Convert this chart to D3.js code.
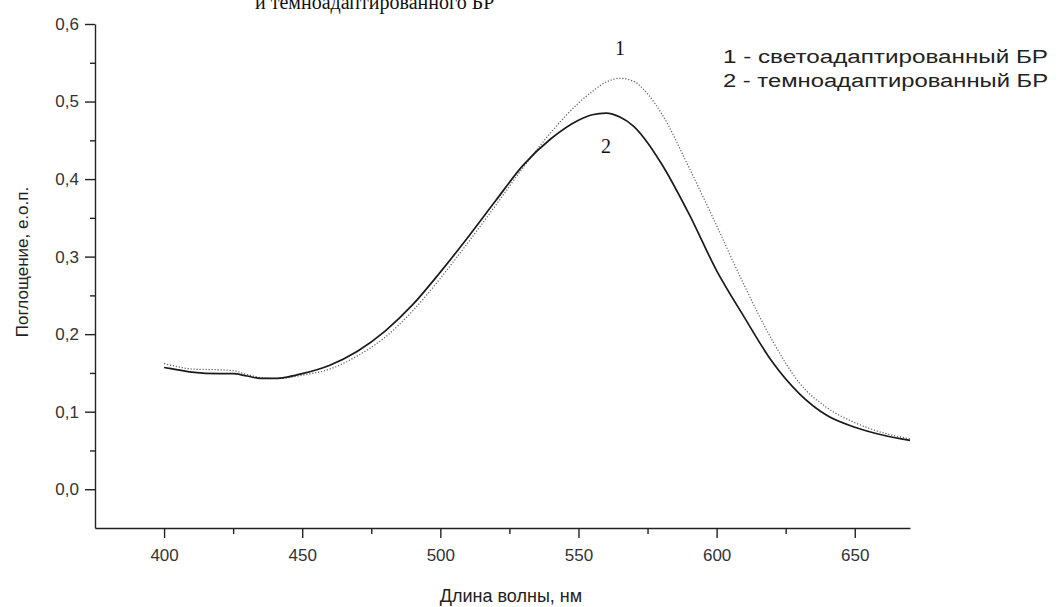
<!DOCTYPE html>
<html>
<head>
<meta charset="utf-8">
<script src="https://cdn.jsdelivr.net/npm/d3@7"></script>
<style>
  body { margin: 0; background: #fff; }
  .axis path, .axis line { stroke: #222; stroke-width: 1.4; }
  .axis text { font-family: "Liberation Sans", Arial, sans-serif; font-size: 17px; fill: #333; }
</style>
</head>
<body>
<div id="chart"></div>
<script>
// wavelengths, nm
var wavelengths = [400, 405, 410, 420, 425, 430, 435, 440, 445, 450, 460, 470, 480, 490, 500,
  510, 520, 530, 540, 550, 555, 560, 565, 570, 575, 580, 590, 600, 610, 620, 630, 640, 650, 660, 670];

// 1 - light adapted (dotted)
var lightAdapted = [0.162, 0.158, 0.155, 0.154, 0.153, 0.148, 0.144, 0.143, 0.144, 0.147, 0.155, 0.172, 0.196, 0.230, 0.272,
  0.318, 0.366, 0.415, 0.460, 0.498, 0.513, 0.525, 0.530, 0.526, 0.510, 0.485, 0.415, 0.340, 0.263, 0.193, 0.137, 0.105, 0.086, 0.073, 0.065];

// 2 - dark adapted (solid)
var darkAdapted = [0.157, 0.154, 0.151, 0.149, 0.149, 0.146, 0.143, 0.143, 0.145, 0.149, 0.160, 0.178, 0.204, 0.238, 0.280,
  0.325, 0.372, 0.418, 0.452, 0.476, 0.483, 0.485, 0.480, 0.468, 0.447, 0.420, 0.355, 0.282, 0.222, 0.165, 0.123, 0.095, 0.080, 0.070, 0.063];

var xMajor = [400, 450, 500, 550, 600, 650];
var xMinor = [425, 475, 525, 575, 625];
var yMajor = [0, 0.1, 0.2, 0.3, 0.4, 0.5, 0.6];
var yMinor = [0.05, 0.15, 0.25, 0.35, 0.45, 0.55];

var legendLines = ["1 - светоадаптированный БР", "2 - темноадаптированный БР"];

var svgWidth = 1059;
var svgHeight = 607;

var svg = d3.select("#chart")
  .append("svg")
  .attr("width", svgWidth)
  .attr("height", svgHeight);

var x = d3.scaleLinear().domain([375, 670]).range([95, 910]);
var y = d3.scaleLinear().domain([-0.05, 0.6]).range([528, 24]);

var fmt = function(d) { return d.toFixed(1).replace(".", ","); };

// x axis
svg.append("g")
  .attr("class", "axis")
  .attr("transform", "translate(0," + y(-0.05) + ")")
  .call(d3.axisBottom(x).tickValues(xMajor).tickSize(10).tickSizeOuter(0).tickPadding(11).tickFormat(d3.format("d")));

svg.append("g")
  .attr("class", "axis")
  .attr("transform", "translate(0," + y(-0.05) + ")")
  .call(d3.axisBottom(x).tickValues(xMinor).tickSize(6).tickSizeOuter(0).tickFormat(""))
  .select(".domain").remove();

// y axis
svg.append("g")
  .attr("class", "axis")
  .attr("transform", "translate(" + x(375) + ",0)")
  .call(d3.axisLeft(y).tickValues(yMajor).tickSize(10).tickSizeOuter(0).tickPadding(6).tickFormat(fmt));

svg.append("g")
  .attr("class", "axis")
  .attr("transform", "translate(" + x(375) + ",0)")
  .call(d3.axisLeft(y).tickValues(yMinor).tickSize(5).tickSizeOuter(0).tickFormat(""))
  .select(".domain").remove();

// curves
var line = d3.line()
  .x(function(d, i) { return x(wavelengths[i]); })
  .y(function(d) { return y(d); })
  .curve(d3.curveMonotoneX);

svg.append("path")
  .datum(lightAdapted)
  .attr("d", line)
  .attr("fill", "none")
  .attr("stroke", "#666")
  .attr("stroke-width", 1.3)
  .attr("stroke-dasharray", "1.2,1.8");

svg.append("path")
  .datum(darkAdapted)
  .attr("d", line)
  .attr("fill", "none")
  .attr("stroke", "#1a1a1a")
  .attr("stroke-width", 1.7);

// axis titles
svg.append("text")
  .attr("x", 511)
  .attr("y", 602)
  .attr("text-anchor", "middle")
  .style("font-family", "Liberation Sans, Arial, sans-serif")
  .style("font-size", "18px")
  .style("fill", "#222")
  .text("Длина волны, нм");

svg.append("text")
  .attr("transform", "translate(28,262) rotate(-90)")
  .attr("text-anchor", "middle")
  .style("font-family", "Liberation Sans, Arial, sans-serif")
  .style("font-size", "17px")
  .style("fill", "#222")
  .text("Поглощение, е.о.п.");

// title, cut off at the top edge as in the source
svg.append("text")
  .attr("x", 255)
  .attr("y", 9)
  .style("font-family", "Liberation Serif, Times New Roman, serif")
  .style("font-size", "20px")
  .style("fill", "#111")
  .text("и темноадаптированного БР");

// curve numbers
svg.append("text")
  .attr("x", x(565))
  .attr("y", 55)
  .attr("text-anchor", "middle")
  .style("font-family", "Liberation Serif, Times New Roman, serif")
  .style("font-size", "20px")
  .style("fill", "#111")
  .text("1");

svg.append("text")
  .attr("x", x(560))
  .attr("y", 153)
  .attr("text-anchor", "middle")
  .style("font-family", "Liberation Serif, Times New Roman, serif")
  .style("font-size", "20px")
  .style("fill", "#111")
  .text("2");

// legend
svg.selectAll(".legend")
  .data(legendLines)
  .enter()
  .append("text")
  .attr("class", "legend")
  .attr("x", 723)
  .attr("y", function(d, i) { return 63 + i * 24; })
  .attr("textLength", 325)
  .attr("lengthAdjust", "spacingAndGlyphs")
  .style("font-family", "Liberation Sans, Arial, sans-serif")
  .style("font-size", "18px")
  .style("fill", "#222")
  .text(function(d) { return d; });
</script>
</body>
</html>
